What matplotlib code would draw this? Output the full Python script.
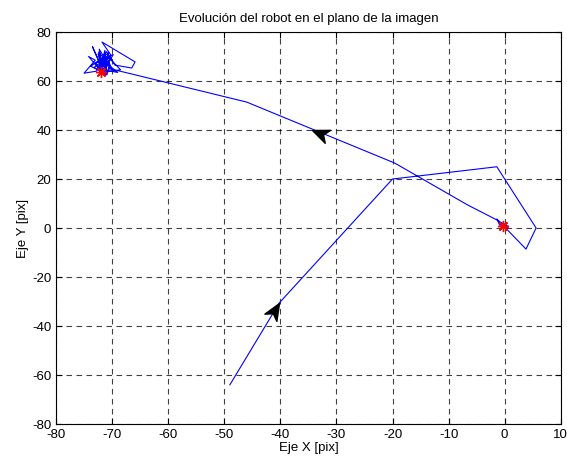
import numpy as np
import matplotlib
matplotlib.use("Agg")
import matplotlib.pyplot as plt
from matplotlib.path import Path

plt.rcParams['font.family'] = ['Liberation Sans', 'DejaVu Sans']
plt.rcParams['axes.unicode_minus'] = False

# trayectoria del robot (pix)
path_x = [-49.0, -40.2, -20.0, -1.4, 5.6, 3.8, -1.4, -0.9, 0.6, 0.6, -0.7, 0.2, -0.5, 0.4, -1.4,
          -6.6, -19.6, -46.0, -68.0]
path_y = [-64.0, -30.6, 20.0, 25.0, 0.0, -8.6, 3.7, 1.2, 0.8, 0.0, 0.4, 1.5, 2.0, 0.6, 3.3,
          9.4, 26.5, 51.4, 63.7]

# oscilacion final alrededor del objetivo
clus_x = [-70.5, -71.5, -70.8, -72.5, -71.2, -73.5, -72.0, -70.2, -71.8, -65.9, -66.5, -69.5,
          -71.0, -72.8, -75.0, -73.0, -74.2, -71.5, -72.3, -70.0, -71.0, -72.6, -69.0, -71.4,
          -72.0, -73.8, -70.6, -72.2, -71.6, -70.9, -71.3, -72.1, -70.4, -71.7, -69.8, -72.9,
          -71.1, -70.3, -72.4, -71.9, -68.5, -70.7, -73.2, -71.4, -72.0]
clus_y = [65.0, 69.5, 63.5, 71.0, 62.5, 74.0, 66.0, 70.5, 75.9, 67.8, 65.3, 66.5,
          72.0, 64.0, 63.2, 68.5, 70.0, 62.8, 73.0, 64.5, 70.0, 65.0, 63.5, 68.0,
          64.0, 66.0, 71.5, 63.0, 69.0, 62.6, 72.5, 64.8, 68.8, 63.2, 70.8, 67.2,
          62.4, 66.2, 71.8, 63.4, 64.6, 69.8, 65.6, 63.0, 63.7]

# objetivos
target_x = [-0.3, -72.0]
target_y = [1.0, 63.7]

# flechas: punta y segmento que indica la direccion
arrow_tip = [(-40.2, -30.6), (-34.4, 40.2)]
arrow_seg = [((-49.0, -64.0), (-40.2, -30.6)), ((-19.6, 26.5), (-46.0, 51.4))]

fig = plt.figure(figsize=(5.67, 4.68), dpi=100)
ax = fig.add_axes([0.0988, 0.094, 0.8902, 0.8376])

ax.plot(path_x + clus_x, path_y + clus_y, color='#0000ff', linewidth=0.8)
ax.plot(target_x, target_y, linestyle='none', marker=(8, 2, 0), color='red', markersize=8,
        markeredgewidth=1.0)

ax.set_xlim(-80, 10)
ax.set_ylim(-80, 80)
ax.set_xticks(np.arange(-80, 11, 10))
ax.set_yticks(np.arange(-80, 81, 20))

# cabezas de flecha estilo MATLAB
head = Path([(0, 0), (-1, 0.42), (-0.72, 0), (-1, -0.42), (0, 0)],
            [Path.MOVETO, Path.LINETO, Path.LINETO, Path.LINETO, Path.CLOSEPOLY])
for tip, (p0, p1) in zip(arrow_tip, arrow_seg):
    a = ax.transData.transform(p0)
    b = ax.transData.transform(p1)
    ang = np.degrees(np.arctan2(b[1] - a[1], b[0] - a[0]))
    m = matplotlib.markers.MarkerStyle(head)
    m = m.rotated(deg=ang)
    ax.plot([tip[0]], [tip[1]], marker=m, markersize=24, color='k', linestyle='none', zorder=5)

ax.grid(True, color='k', linestyle=(0, (5, 4)), linewidth=0.8, alpha=0.75)
ax.tick_params(direction='in', top=True, right=True, labelsize=9.5, length=4)
for s in ax.spines.values():
    s.set_linewidth(0.8)

ax.set_title('Evolución del robot en el plano de la imagen', fontsize=9.5, pad=7)
ax.set_xlabel('Eje X [pix]', fontsize=9.5, labelpad=1)
ax.set_ylabel('Eje Y [pix]', fontsize=9.5, labelpad=2)

fig.savefig('out.png', dpi=100)
